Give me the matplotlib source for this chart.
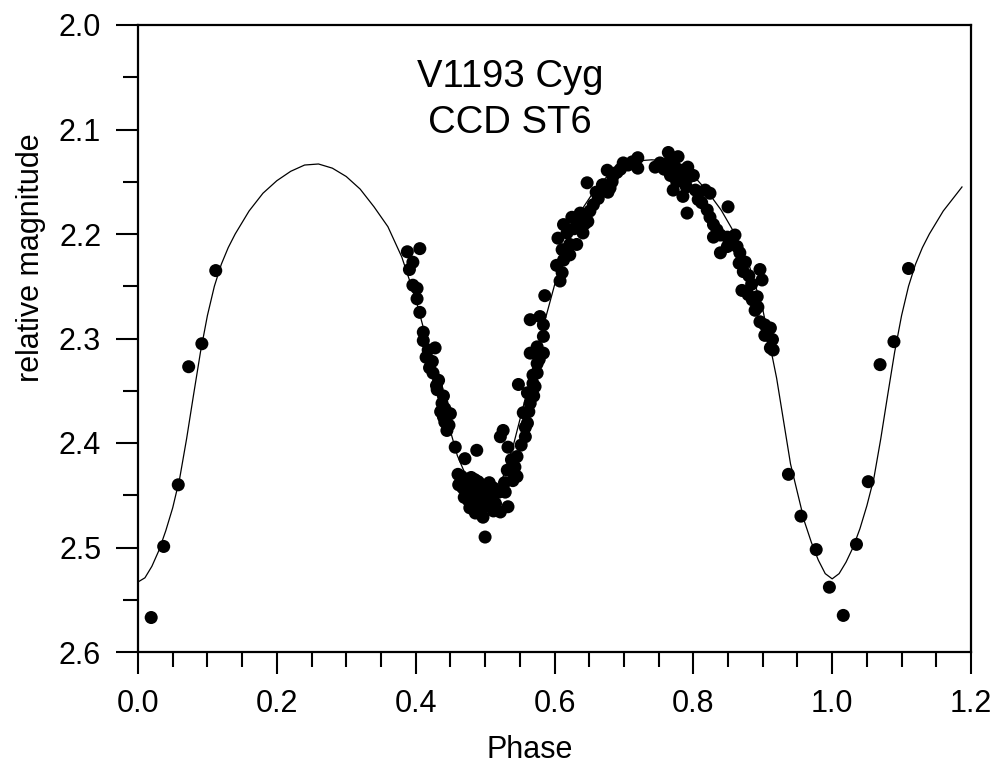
import numpy as np
import matplotlib
matplotlib.use("Agg")
import matplotlib.pyplot as plt
from matplotlib.ticker import MultipleLocator, FormatStrFormatter

plt.rcParams["font.family"] = ["Liberation Sans", "DejaVu Sans"]

# =============================
#  Observed points (phase, relative magnitude)
# =============================
phase_obs = [
    # primary minimum, left
    0.019, 0.037, 0.058, 0.073, 0.092, 0.112,
    # descending branch to secondary minimum
    0.388, 0.406, 0.396, 0.391, 0.396, 0.402, 0.402, 0.406, 0.411, 0.411,
    0.418, 0.428, 0.424, 0.425, 0.431, 0.438, 0.442, 0.445, 0.436, 0.440,
    0.457, 0.471, 0.488, 0.461, 0.415, 0.420, 0.433, 0.430, 0.442, 0.448,
    0.450, 0.440,
    # secondary minimum cluster
    0.466, 0.470, 0.475, 0.480, 0.485, 0.490, 0.495, 0.500, 0.472, 0.478,
    0.483, 0.488, 0.493, 0.498, 0.503, 0.468, 0.476, 0.482, 0.490, 0.497,
    0.505, 0.510, 0.515, 0.520, 0.478, 0.497, 0.500, 0.522, 0.533, 0.529,
    0.512, 0.486, 0.470, 0.462, 0.506, 0.512,
    # ascending branch
    0.532, 0.526, 0.522, 0.533, 0.546, 0.543, 0.546, 0.558, 0.561, 0.555,
    0.565, 0.561, 0.548, 0.569, 0.575, 0.569, 0.575, 0.565, 0.584, 0.575,
    0.584, 0.584, 0.579, 0.565, 0.586, 0.538, 0.552, 0.558, 0.563, 0.570,
    0.572, 0.578, 0.540, 0.528,
    # upper ascending branch
    0.611, 0.613, 0.622, 0.611, 0.622, 0.632, 0.605, 0.618, 0.641, 0.613,
    0.625, 0.637, 0.648, 0.651, 0.656, 0.663, 0.647, 0.670, 0.677, 0.683,
    0.644, 0.669, 0.676, 0.680, 0.684, 0.690, 0.699, 0.712, 0.720, 0.720,
    0.608, 0.603, 0.628, 0.635, 0.660, 0.706, 0.695,
    # maximum II
    0.752, 0.764, 0.767, 0.774, 0.778, 0.784, 0.792, 0.795, 0.800, 0.767,
    0.771, 0.788, 0.785, 0.803, 0.807, 0.817, 0.824, 0.791, 0.820, 0.824,
    0.850, 0.829, 0.829, 0.839, 0.849, 0.860, 0.849, 0.863, 0.839, 0.867,
    0.758, 0.780, 0.776, 0.762, 0.790, 0.812, 0.834, 0.855, 0.745,
    # descending branch to primary minimum
    0.875, 0.870, 0.879, 0.885, 0.892, 0.896, 0.899, 0.889, 0.896, 0.903,
    0.911, 0.903, 0.914, 0.911, 0.915, 0.872, 0.880, 0.866, 0.884, 0.893,
    # primary minimum, right
    0.937, 0.955, 0.977, 0.996, 1.016, 1.035, 1.052, 1.069, 1.089, 1.110,
]
mag_obs = [
    2.567, 2.499, 2.440, 2.327, 2.305, 2.235,
    2.217, 2.214, 2.227, 2.234, 2.249, 2.252, 2.262, 2.275, 2.294, 2.302,
    2.311, 2.309, 2.322, 2.333, 2.349, 2.362, 2.380, 2.388, 2.370, 2.355,
    2.404, 2.415, 2.407, 2.430, 2.318, 2.328, 2.340, 2.345, 2.367, 2.383,
    2.372, 2.375,
    2.432, 2.438, 2.435, 2.433, 2.435, 2.437, 2.440, 2.442, 2.445, 2.448,
    2.443, 2.450, 2.447, 2.452, 2.447, 2.443, 2.455, 2.460, 2.458, 2.462,
    2.455, 2.452, 2.458, 2.447, 2.462, 2.471, 2.490, 2.466, 2.461, 2.447,
    2.465, 2.467, 2.452, 2.440, 2.438, 2.443,
    2.426, 2.388, 2.394, 2.404, 2.413, 2.423, 2.432, 2.394, 2.381, 2.371,
    2.362, 2.352, 2.344, 2.343, 2.333, 2.335, 2.324, 2.314, 2.314, 2.308,
    2.298, 2.287, 2.279, 2.282, 2.259, 2.416, 2.402, 2.385, 2.370, 2.355,
    2.346, 2.320, 2.436, 2.438,
    2.237, 2.225, 2.220, 2.215, 2.210, 2.210, 2.204, 2.199, 2.199, 2.191,
    2.184, 2.180, 2.188, 2.178, 2.172, 2.166, 2.151, 2.153, 2.160, 2.150,
    2.190, 2.153, 2.139, 2.156, 2.145, 2.141, 2.132, 2.131, 2.127, 2.137,
    2.245, 2.230, 2.195, 2.188, 2.160, 2.134, 2.138,
    2.132, 2.122, 2.129, 2.136, 2.126, 2.139, 2.136, 2.145, 2.144, 2.144,
    2.158, 2.150, 2.164, 2.158, 2.167, 2.158, 2.161, 2.180, 2.177, 2.184,
    2.174, 2.191, 2.203, 2.201, 2.203, 2.201, 2.212, 2.212, 2.218, 2.218,
    2.138, 2.145, 2.150, 2.135, 2.155, 2.170, 2.196, 2.208, 2.136,
    2.227, 2.254, 2.258, 2.263, 2.260, 2.234, 2.244, 2.273, 2.284, 2.287,
    2.290, 2.297, 2.301, 2.309, 2.311, 2.236, 2.240, 2.228, 2.248, 2.270,
    2.430, 2.470, 2.502, 2.538, 2.565, 2.497, 2.437, 2.325, 2.303, 2.233,
]

# =============================
#  Model light curve
# =============================
phase_fit = [
    0.00, 0.01, 0.02, 0.03, 0.04, 0.05, 0.06, 0.07, 0.08, 0.09,
    0.10, 0.11, 0.12, 0.13, 0.14, 0.16, 0.18, 0.20, 0.22, 0.24,
    0.26, 0.28, 0.30, 0.32, 0.34, 0.36, 0.38, 0.40, 0.42, 0.44,
    0.46, 0.48, 0.49, 0.50, 0.51, 0.52, 0.54, 0.56, 0.58, 0.60,
    0.62, 0.64, 0.66, 0.68, 0.70, 0.72, 0.74, 0.76, 0.78, 0.80,
    0.82, 0.84, 0.86, 0.88, 0.90, 0.92, 0.94, 0.96, 0.97, 0.98,
    0.99, 1.00, 1.01, 1.02, 1.03, 1.04, 1.05, 1.06, 1.07, 1.08,
    1.09, 1.10, 1.11, 1.12, 1.13, 1.14, 1.16, 1.18, 1.187,
]
mag_fit = [
    2.533, 2.529, 2.518, 2.503, 2.484, 2.462, 2.434, 2.396, 2.354, 2.313,
    2.278, 2.250, 2.229, 2.213, 2.200, 2.178, 2.161, 2.149, 2.140, 2.134,
    2.133, 2.137, 2.145, 2.157, 2.174, 2.193, 2.222, 2.262, 2.312, 2.365,
    2.412, 2.443, 2.452, 2.455, 2.452, 2.444, 2.404, 2.352, 2.298, 2.249,
    2.207, 2.176, 2.156, 2.142, 2.134, 2.130, 2.129, 2.130, 2.135, 2.144,
    2.159, 2.177, 2.200, 2.229, 2.272, 2.338, 2.420, 2.475, 2.495, 2.512,
    2.525, 2.530, 2.525, 2.514, 2.500, 2.482, 2.460, 2.434, 2.396, 2.354,
    2.313, 2.278, 2.250, 2.229, 2.213, 2.200, 2.178, 2.161, 2.155,
]

title_lines = ["V1193 Cyg", "CCD ST6"]

# =============================
#  Plotting
# =============================
fig = plt.figure(figsize=(9.99, 7.65), dpi=100)
ax = fig.add_axes([138/999, 1 - 652/765, (971 - 138)/999, (652 - 25)/765])

ax.plot(phase_fit, mag_fit, color="black", linewidth=0.9, zorder=2)
ax.scatter(phase_obs, mag_obs, s=88, color="black", edgecolors="none", zorder=3)

ax.set_xlim(0.0, 1.2)
ax.set_ylim(2.6, 2.0)

ax.xaxis.set_major_locator(MultipleLocator(0.2))
ax.xaxis.set_minor_locator(MultipleLocator(0.05))
ax.yaxis.set_major_locator(MultipleLocator(0.1))
ax.yaxis.set_minor_locator(MultipleLocator(0.05))
ax.xaxis.set_major_formatter(FormatStrFormatter("%.1f"))
ax.yaxis.set_major_formatter(FormatStrFormatter("%.1f"))

ax.tick_params(axis="both", which="major", direction="out", length=15.5,
               width=1.5, labelsize=22, pad=11)
ax.tick_params(axis="both", which="minor", direction="out", length=10.5, width=1.5)
ax.tick_params(top=False, right=False, which="both")

for spine in ax.spines.values():
    spine.set_linewidth(1.6)

ax.text(0.536, 2.059, title_lines[0], fontsize=27.5, ha="center", va="baseline")
ax.text(0.536, 2.103, title_lines[1], fontsize=27.5, ha="center", va="baseline")

fig.text(529.5/999, 1 - 758/765, "Phase", fontsize=22, ha="center", va="baseline")
fig.text(31/999, 1 - 258/765, "relative magnitude", fontsize=22,
         rotation=90, ha="center", va="center")

plt.savefig("out.png", dpi=100)
